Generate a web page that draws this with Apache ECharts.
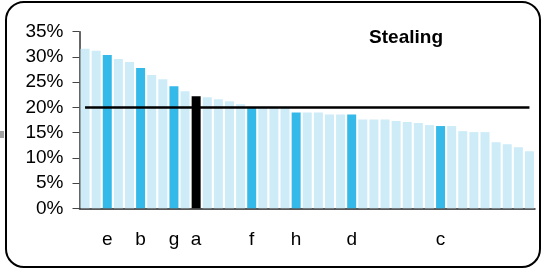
<!DOCTYPE html>
<html>
<head>
<meta charset="utf-8">
<script src="https://cdn.jsdelivr.net/npm/echarts@6/dist/echarts.min.js"></script>
<style>
  html, body { margin: 0; padding: 0; background: #fff; }
  #chart { width: 544px; height: 272px; }
</style>
</head>
<body>
<div id="chart"></div>
<script>
// category labels (only the marked ones carry a letter)
var labels = ['', '', 'e', '', '', 'b', '', '', 'g', '', 'a', '', '', '', '', 'f', '', '', '',
  'h', '', '', '', '', 'd', '', '', '', '', '', '', '', 'c', '', '', '', '', '', '', '', ''];
var values = [31.6, 31.2, 30.4, 29.6, 29.0, 27.8, 26.4, 25.6, 24.2, 23.2, 22.2, 22.0, 21.6, 21.2,
  20.6, 20.1, 20.0, 19.9, 19.9, 19.0, 19.0, 19.0, 18.6, 18.6, 18.6, 17.6, 17.6, 17.6, 17.3,
  17.1, 16.9, 16.5, 16.3, 16.3, 15.3, 15.1, 15.1, 13.1, 12.7, 12.1, 11.3];
var yTicks = [0, 5, 10, 15, 20, 25, 30, 35];
var refLevel = 20;
var title = 'Stealing';

var chart = echarts.init(document.getElementById('chart'));

var option = {
  animation: false,
  textStyle: { fontFamily: 'Liberation Sans, Arial, sans-serif' },
  title: {
    text: title,
    right: 96,
    top: 23,
    textStyle: { fontSize: 19, fontWeight: 'bold', color: '#000', fontFamily: 'Liberation Sans, Arial, sans-serif' }
  },
  grid: { left: 79.5, right: 9, top: 31.7, bottom: 63.7, containLabel: false },
  xAxis: {
    type: 'category',
    data: labels.map(function(l, i) { return { value: l || (' ' + i) }; }),
    axisLine: { lineStyle: { color: '#222', width: 1.5 } },
    axisTick: { show: false },
    axisLabel: {
      interval: 0,
      margin: 22,
      fontSize: 19,
      color: '#000',
      formatter: function(v) { return /^\s\d+$/.test(v) ? '' : v; }
    }
  },
  yAxis: {
    type: 'value',
    min: yTicks[0],
    max: yTicks[yTicks.length - 1],
    interval: 5,
    axisLine: { show: true, lineStyle: { color: '#333', width: 1.5 } },
    axisTick: { show: true, length: 7, lineStyle: { color: '#444' } },
    splitLine: { show: false },
    axisLabel: { formatter: '{value}%', fontSize: 19, color: '#000', margin: 16 }
  },
  series: [{
    type: 'bar',
    data: values,
    barCategoryGap: '19%',
    itemStyle: {
      color: function(p) {
        var l = labels[p.dataIndex];
        if (l === 'a') return '#000000';
        if (l) return '#35b9e9';
        return '#cdecf8';
      }
    },
    markLine: {
      silent: true,
      symbol: 'none',
      label: { show: false },
      lineStyle: { color: '#000', width: 2.5, type: 'solid' },
      data: [[{ coord: [0, refLevel] }, { coord: [values.length - 1, refLevel] }]]
    }
  }],
  graphic: [
    {
      type: 'rect',
      shape: { x: 6, y: 2, width: 534, height: 265, r: 18 },
      style: { fill: 'none', stroke: '#000', lineWidth: 2 },
      z: 100
    },
    {
      type: 'rect',
      shape: { x: 0, y: 131, width: 4, height: 7 },
      style: { fill: '#a0a0a0' }
    }
  ]
};

chart.setOption(option);

window.addEventListener('resize', function() {
  chart.resize();
});
</script>
</body>
</html>
